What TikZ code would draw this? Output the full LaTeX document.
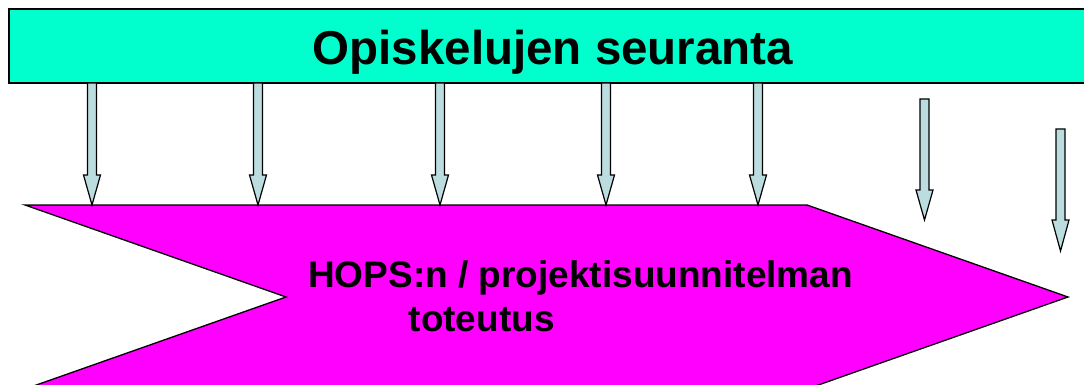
\documentclass[tikz,border=0pt]{standalone}
\usepackage{fontspec}
\setmainfont{Liberation Sans}
\definecolor{bannerteal}{HTML}{00FFCC}
\definecolor{chevmag}{HTML}{FF00FF}
\definecolor{arrowfill}{HTML}{BBDDE0}
\tikzset{
  bannerbox/.style={draw=black, line width=1.5pt, fill=bannerteal},
  chevshape/.style={draw=black, line width=1.3pt, fill=chevmag},
  downarrow/.style={draw=black, line width=1.2pt, fill=arrowfill, line join=miter},
  titletext/.style={font=\fontsize{47.5}{50}\selectfont\bfseries, inner sep=0pt},
  bodytext/.style={font=\fontsize{37}{40}\selectfont\bfseries, inner sep=0pt},
}
% \dnarrow{center x}{top y}{head start y}{tip y}
\newcommand{\dnarrow}[4]{%
  \draw[downarrow] (#1-4.5,#2) -- (#1+4.5,#2) -- (#1+4.5,#3) -- (#1+8.5,#3)
    -- (#1,#4) -- (#1-8.5,#3) -- (#1-4.5,#3) -- cycle;}
\begin{document}
\begin{tikzpicture}[x=1pt,y=-1pt]
\useasboundingbox (0,0) rectangle (1084,385);
\begin{scope}
\clip (0,0) rectangle (1084,385);
% banner
\draw[bannerbox] (9,9) rectangle (1095,83);
\node[titletext, anchor=base west] (title) at (312.5,65) {Opiskelujen seuranta};
% chevron
\draw[chevshape] (25,205) -- (807,205) -- (1068,297) -- (807,389) -- (25,389) -- (286,297) -- cycle;
\node[bodytext, anchor=base west] (hops) at (308,287) {HOPS:n / projektisuunnitelman};
\node[bodytext, anchor=base west] (tot) at (408.5,331) {toteutus};
% arrows
\dnarrow{92}{83}{175}{205}
\dnarrow{258}{83}{175}{205}
\dnarrow{440}{83}{175}{205}
\dnarrow{606}{83}{175}{205}
\dnarrow{758}{83}{175}{205}
\dnarrow{924.5}{99}{190}{220}
\dnarrow{1060.5}{129}{220}{251}
\end{scope}
\end{tikzpicture}
\end{document}
